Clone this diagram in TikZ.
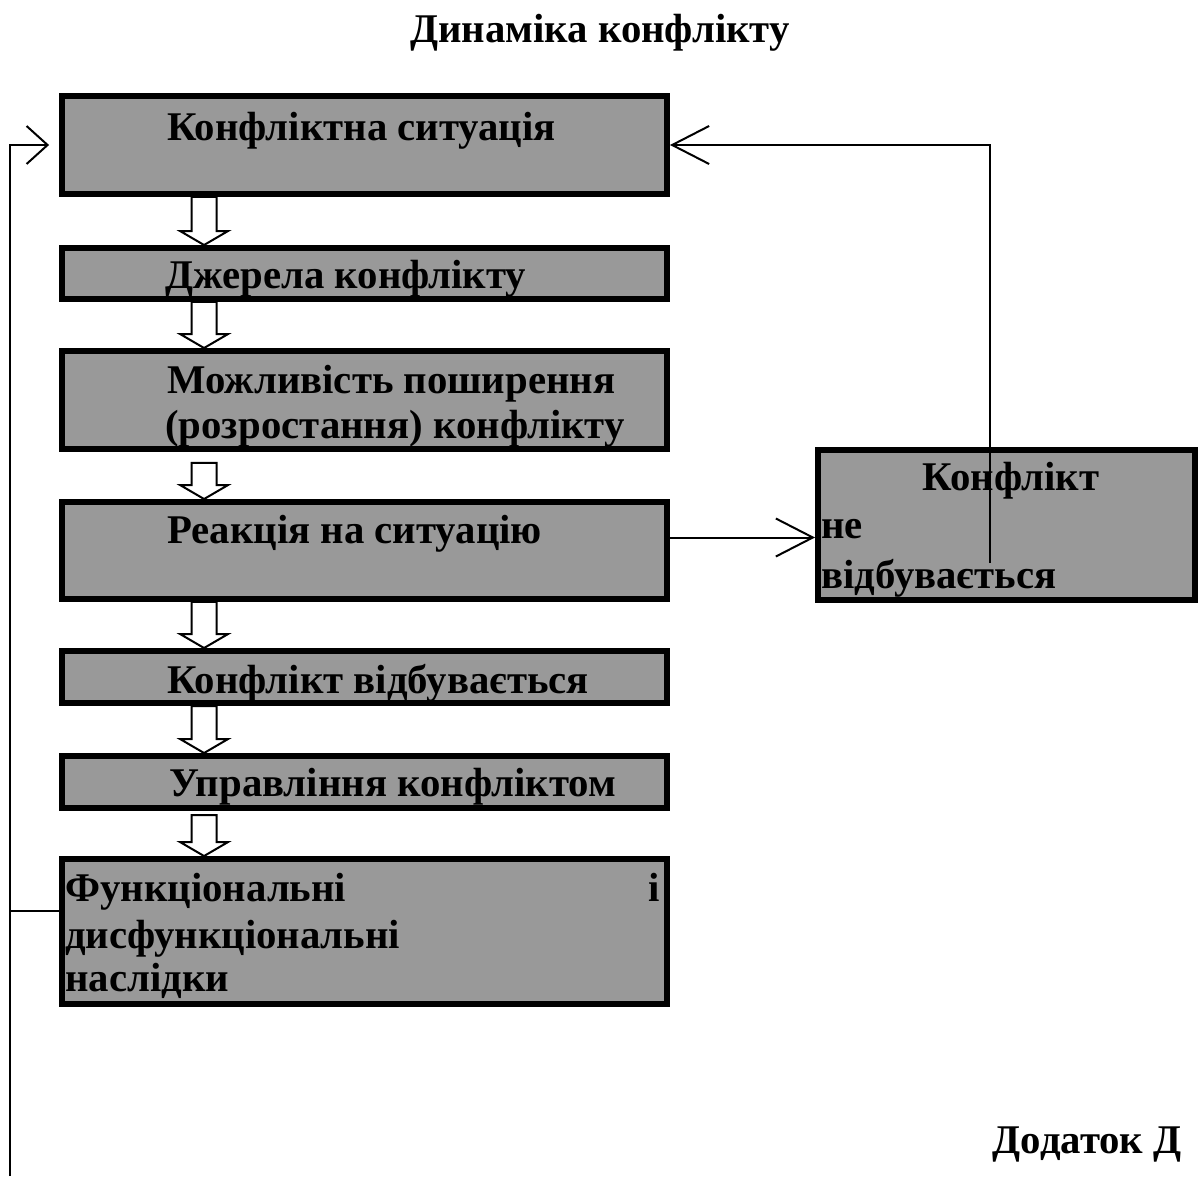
\documentclass[tikz,border=0pt]{standalone}
\usepackage{fontspec}
\setmainfont{Liberation Serif}
\usepackage{tikz}
\usetikzlibrary{arrows.meta,calc}

\tikzset{
  box/.style={draw, line width=0.12cm, fill=black!40, minimum width=12.1cm, inner sep=0pt},
  txt/.style={inner sep=0pt, anchor=base west, font=\fontsize{23.2}{28}\selectfont\bfseries},
  link/.style={line width=0.04cm},
  bigtip/.style={-{Straight Barb[length=0.74cm,width=0.76cm]}},
  smalltip/.style={-{Straight Barb[length=0.42cm,width=0.76cm]}, shorten >=0.2cm},
  hollow/.style={draw, fill=white, line width=0.04cm}
}

\begin{document}
\begin{tikzpicture}[x=0.02cm, y=-0.02cm]
    \useasboundingbox (0,0) rectangle (1199,1176);

    \node[txt, anchor=base] (title) at (600,43) {Динаміка конфлікту};

    \node[box, minimum height=1.96cm] (sit) at (364.5,145) {};
    \node[box, minimum height=1.02cm] (src) at (364.5,273.5) {};
    \node[box, minimum height=1.96cm] (grow) at (364.5,400) {};
    \node[box, minimum height=1.94cm] (react) at (364.5,550.5) {};
    \node[box, minimum height=1.04cm] (occ) at (364.5,677) {};
    \node[box, minimum height=1.04cm] (mgmt) at (364.5,782) {};
    \node[box, minimum height=2.9cm] (res) at (364.5,931.5) {};
    \node[box, minimum width=7.54cm, minimum height=3cm] (nf) at (1006.5,525) {};

    \node[txt] (sitT) at (167,140) {Конфліктна ситуація};
    \node[txt] (srcT) at (165,288) {Джерела конфлікту};
    \node[txt] (growA) at (167,393) {Можливість поширення};
    \node[txt] (growB) at (165,438) {(розростання) конфлікту};
    \node[txt] (reactT) at (167,543) {Реакція на ситуацію};
    \node[txt] (occT) at (167,693) {Конфлікт відбувається};
    \node[txt] (mgmtT) at (169,796) {Управління конфліктом};
    \node[txt] (resA) at (65,901) {Функціональні};
    \node[txt, anchor=base east] (resI) at (660,901) {і};
    \node[txt] (resB) at (65,948) {дисфункціональні};
    \node[txt] (resC) at (65,991) {наслідки};
    \node[txt, anchor=base] (nfA) at (1011,490) {Конфлікт};
    \node[txt] (nfB) at (821,538) {не};
    \node[txt] (nfC) at (821,588) {відбувається};

    \node[txt, anchor=base east] (app) at (1182,1153) {Додаток Д};

    \foreach \a/\b/\g in {sit/src/0,src/grow/0,grow/react/11,react/occ/0,occ/mgmt/0,mgmt/res/4}
        \draw[hollow] let \p1=($(\a.south west)+(145,\g)$), \p2=($(\b.north west)+(145,0)$) in
            (\x1-0.25cm,\y1) -- (\x1-0.25cm,\y2+0.28cm) -- (\x1-0.48cm,\y2+0.28cm) -- (\x1,\y2)
            -- (\x1+0.48cm,\y2+0.28cm) -- (\x1+0.25cm,\y2+0.28cm) -- (\x1+0.25cm,\y1) -- cycle;

    \coordinate (up) at (990,563);
    \coordinate (low) at (10,1176);
    \coordinate (resin) at ($(res.west)+(0,-21)$);
    \coordinate (reactout) at ($(react.east)+(0,-13)$);

    \draw[link, bigtip] (up) |- (sit.east);
    \draw[link, smalltip] (low) |- (sit.west);
    \draw[link] (resin) -- (resin -| low);
    \draw[link, bigtip] (reactout) -- (reactout -| nf.west);
\end{tikzpicture}
\end{document}
